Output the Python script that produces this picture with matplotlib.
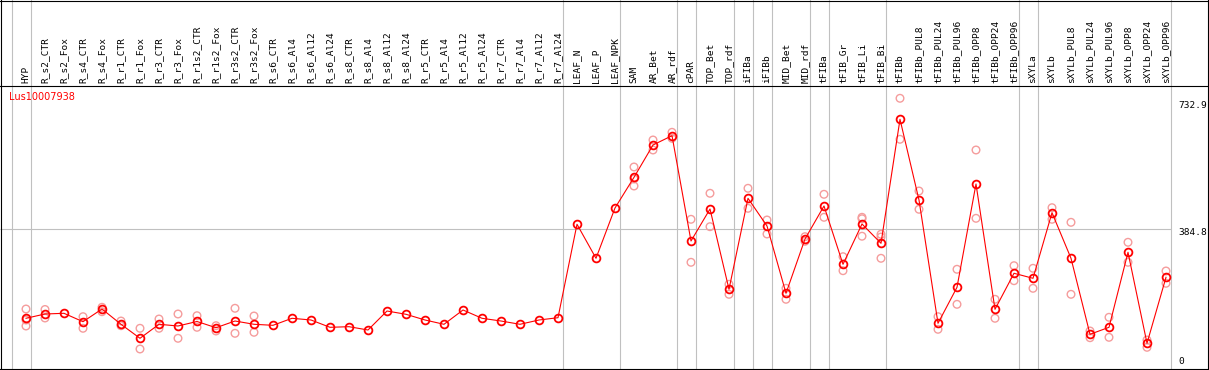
import matplotlib
matplotlib.use("Agg")
import matplotlib.pyplot as plt
from matplotlib.lines import Line2D
from matplotlib.transforms import blended_transform_factory

# ---------------- data ----------------
title = "Lus10007938"

groups = [
    ["HYP"],
    ["R_s2_CTR", "R_s2_Fox", "R_s4_CTR", "R_s4_Fox", "R_r1_CTR", "R_r1_Fox",
     "R_r3_CTR", "R_r3_Fox", "R_r1s2_CTR", "R_r1s2_Fox", "R_r3s2_CTR", "R_r3s2_Fox",
     "R_s6_CTR", "R_s6_Al4", "R_s6_Al12", "R_s6_Al24", "R_s8_CTR", "R_s8_Al4",
     "R_s8_Al12", "R_s8_Al24", "R_r5_CTR", "R_r5_Al4", "R_r5_Al12", "R_r5_Al24",
     "R_r7_CTR", "R_r7_Al4", "R_r7_Al12", "R_r7_Al24"],
    ["LEAF_N", "LEAF_P", "LEAF_NPK"],
    ["SAM", "AR_Bet", "AR_rdf"],
    ["cPAR"],
    ["TOP_Bet", "TOP_rdf"],
    ["iFIBa"],
    ["iFIBb"],
    ["MID_Bet", "MID_rdf"],
    ["tFIBa"],
    ["tFIB_Gr", "tFIB_Li", "tFIB_Bi"],
    ["tFIBb", "tFIBb_PUL8", "tFIBb_PUL24", "tFIBb_PUL96", "tFIBb_OPP8",
     "tFIBb_OPP24", "tFIBb_OPP96"],
    ["sXYLa"],
    ["sXYLb", "sXYLb_PUL8", "sXYLb_PUL24", "sXYLb_PUL96", "sXYLb_OPP8",
     "sXYLb_OPP24", "sXYLb_OPP96"],
]

means = [139.4, 151.2, 153.1, 130.0, 164.9, 122.9, 84.4, 122.9, 118.2, 130.6,
         113.5, 131.9, 122.9, 120.1, 139.4, 134.7, 114.6, 116.3, 107.2, 159.4,
         150.4, 134.7, 122.9, 162.2, 139.4, 131.9, 122.9, 134.7, 141.0, 397.8,
         304.3, 442.6, 526.9, 615.7, 641.3, 351.8, 439.8, 219.1, 469.2, 393.1,
         208.1, 357.3, 448.1, 287.8, 398.6, 345.5, 686.4, 464.5, 125.6, 224.6,
         508.5, 164.1, 263.1, 249.3, 429.6, 304.3, 95.4, 114.6, 320.8, 70.6, 252.1]

replicates = [
    [164.9, 134.7, 118.2], [163.6, 140.2], [], [143.8, 111.9], [169.6, 157.5],
    [131.9, 119.0], [111.9, 55.0], [137.4, 111.9], [151.2, 84.4], [146.5, 114.6],
    [119.0, 104.5], [166.9, 98.1], [145.7, 100.9],
    [], [], [], [], [], [], [],
    [], [], [], [], [], [], [], [], [],
    [], [], [],
    [555.3, 522.3, 503.0], [629.5, 602.0], [650.6, 634.1], [411.5, 293.3],
    [483.0, 391.2], [232.8, 205.3], [496.7, 441.7], [409.6, 371.1],
    [221.8, 191.6], [363.7, 351.0], [480.2, 417.0], [308.7, 270.2],
    [417.0, 413.0, 365.0], [370.3, 362.8, 304.3], [744.1, 631.4], [489.3, 439.0],
    [143.8, 109.1], [274.1, 177.8], [602.0, 414.2], [191.6, 139.4],
    [284.0, 242.7], [276.8, 221.8], [443.4, 411.5], [403.2, 205.3],
    [104.5, 86.0], [142.1, 87.1], [348.3, 293.3], [79.7, 59.6], [269.4, 235.6],
]

y_tick_values = [0, 384.8, 732.9]
grid_value = 384.8

# ---------------- layout ----------------
W, H = 1209, 370
x0_px, dx_px = 26, 19          # pixel x of first category, spacing
y0_px, ppu = 369, 0.3638       # pixel row of value 0, pixels per unit
label_bottom_px = 83
sep_px = 85
plot_right_px = 1170.5
RED = "#ff0000"
PINK = "#f59c9c"
GRAY = "#c0c0c0"

categories = [c for g in groups for c in g]
idx = list(range(len(categories)))

fig = plt.figure(figsize=(W / 100, H / 100), dpi=100)
ax = fig.add_axes([0, 0, 1, 1])
ax.set_axis_off()
ax.set_xlim(-x0_px / dx_px, (W - x0_px) / dx_px)
ax.set_ylim(-(H - y0_px) / ppu, y0_px / ppu)

# group boundary lines
bounds = [-0.76]
pos = -1
for g in groups:
    pos += len(g)
    bounds.append(pos + 0.24)
for b in bounds:
    ax.axvline(b, color=GRAY, lw=0.8, zorder=1)

# horizontal grid line
ax.hlines(grid_value, ax.get_xlim()[0], bounds[-1], color=GRAY, lw=0.8, zorder=1)

# replicates
rx, ry = [], []
for i, reps in enumerate(replicates):
    for v in reps:
        rx.append(i)
        ry.append(v)
ax.scatter(rx, ry, s=30, facecolors="none", edgecolors=PINK, linewidths=1.0, zorder=2)

# mean line
ax.plot(idx, means, color=RED, lw=0.8, marker="o", ms=5.6, mfc="none",
        mec=RED, mew=1.3, zorder=3)

# category labels
tr = blended_transform_factory(ax.transData, fig.transFigure)
for i, c in enumerate(categories):
    ax.text(i, 1 - label_bottom_px / H, c, rotation=90, ha="center", va="bottom",
            family="DejaVu Sans Mono", fontsize=6.8, color="black", transform=tr)

# title
fig.text(9 / W, 1 - 96.5 / H, title, color=RED, fontsize=7, va="center",
         ha="left", family="DejaVu Sans")

# y tick labels
trY = blended_transform_factory(fig.transFigure, ax.transData)
for v in y_tick_values:
    va = "bottom" if v == 0 else "top"
    yv = v + 3 / ppu if v == 0 else v + 1 / ppu
    ax.text(1178 / W, yv, f"{v:g}", ha="left", va=va, family="DejaVu Sans Mono",
            fontsize=6.8, color="black", transform=trY)

# frame lines (figure pixel coordinates)
def hline(ypx, x1=0, x2=W):
    y = 1 - (ypx + 0.5) / H
    fig.add_artist(Line2D([x1 / W, x2 / W], [y, y], color="black", lw=0.8,
                          transform=fig.transFigure))

def vline(xpx, y1=0, y2=H):
    x = (xpx + 0.5) / W
    fig.add_artist(Line2D([x, x], [1 - y1 / H, 1 - y2 / H], color="black", lw=0.8,
                          transform=fig.transFigure))

hline(0)
hline(sep_px)
hline(368.8)
vline(0)
vline(1207.8)

fig.savefig("out.png", dpi=100)
